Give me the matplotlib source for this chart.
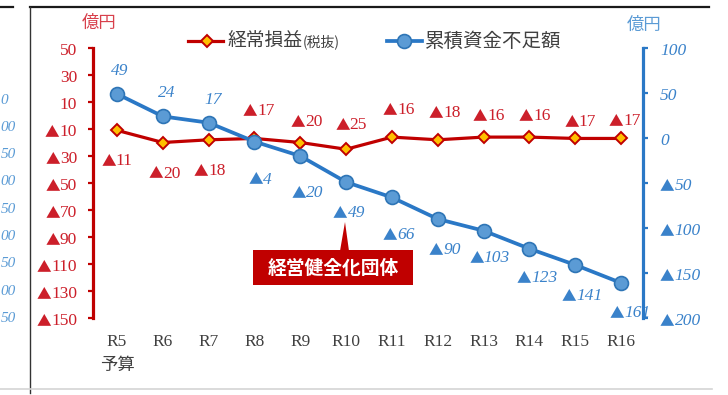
import matplotlib.pyplot as plt
from matplotlib.lines import Line2D
from matplotlib.patches import Rectangle, Polygon
from matplotlib.offsetbox import TextArea, HPacker, AnnotationBbox

W, H = 728, 395

years = ['R5', 'R6', 'R7', 'R8', 'R9', 'R10', 'R11', 'R12', 'R13', 'R14', 'R15', 'R16']
profit = [-11, -20, -18, -17, -20, -25, -16, -18, -16, -16, -17, -17]
shortfall = [49, 24, 17, -4, -20, -49, -66, -90, -103, -123, -141, -161]
left_ticks = [50, 30, 10, -10, -30, -50, -70, -90, -110, -130, -150]
right_ticks = [100, 50, 0, -50, -100, -150, -200]
side_labels = ['0', '00', '50', '00', '50', '00', '50', '00', '50']

# where each value label sits relative to its point (pixels, +dy = down)
profit_offsets = [(0, 28), (2, 28), (1, 28), (4, -30), (6, -23), (5, -27),
                  (7, -30), (7, -30), (5, -24), (5, -24), (5, -19), (4, -20)]
shortfall_offsets = [(3, -26), (4, -26), (4, -26), (6, 35), (7, 34), (3, 28),
                     (7, 35), (7, 28), (6, 24), (8, 26), (7, 28), (9, 27)]
BASE_SHIFT = 3  # text boxes include descent, so nudge them down a little

RED = '#C00000'
RED_TXT = '#CC1F2A'
BLUE = '#2A78C6'
BLUE_TXT = '#3A82CA'
GRAY = '#404040'
SERIF = ['Liberation Serif', 'DejaVu Serif']
JP = ['Noto Sans CJK JP', 'DejaVu Sans']

plt.rcParams['font.family'] = SERIF


def fx(x):
    return x / W


def fy(y):
    return 1 - y / H


def num_label(ax, v, xy, xycoords, offset, align, color, style='normal', z=4):
    # negative values are written with a leading ▲ instead of a minus sign
    parts = []
    if v < 0:
        parts.append(TextArea('▲', textprops=dict(color=color, fontsize=10.5,
                                                  family=JP)))
    parts.append(TextArea(str(abs(v)), textprops=dict(color=color, fontsize=12.5,
                                                      family=SERIF, fontstyle=style)))
    box = HPacker(children=parts, pad=0, sep=0, align='baseline')
    ab = AnnotationBbox(box, xy, xycoords=xycoords,
                        xybox=(offset[0], offset[1] - BASE_SHIFT),
                        boxcoords='offset pixels', box_alignment=align,
                        frameon=False, pad=0, annotation_clip=False)
    ab.set_zorder(z)
    ax.add_artist(ab)


fig = plt.figure(figsize=(W / 100, H / 100), dpi=100)
fig.patch.set_facecolor('white')

ax = fig.add_axes([fx(93), fy(318), (643 - 93) / W, (318 - 48) / H])
ax2 = ax.twinx()
ax.set_xlim(-0.524, 11.48)
ax.set_ylim(-150, 50)
ax2.set_ylim(-200, 100)

for side in ['top', 'right', 'bottom']:
    ax.spines[side].set_visible(False)
for side in ['top', 'left', 'bottom']:
    ax2.spines[side].set_visible(False)
ax.spines['left'].set_color(RED)
ax.spines['left'].set_linewidth(2.3)
ax2.spines['right'].set_color(BLUE)
ax2.spines['right'].set_linewidth(2.3)

ax.set_yticks(left_ticks)
ax.tick_params(axis='y', direction='out', length=3.6, width=1.6, color=RED,
               labelleft=False)
ax2.set_yticks(right_ticks)
ax2.tick_params(axis='y', direction='out', length=3.6, width=1.6, color=BLUE,
                labelright=False)
for v in left_ticks:
    num_label(ax, v, (0, v), ('axes fraction', 'data'), (-16, 0), (1, 0.5), RED_TXT)
for v in right_ticks:
    num_label(ax2, v, (1, v), ('axes fraction', 'data'), (17, 0), (0, 0.5), BLUE_TXT,
              style='italic')

ax.set_xticks(range(len(years)), labels=years)
ax.tick_params(axis='x', length=0, labelsize=12.5, labelcolor=GRAY, pad=11.5)
ax.annotate('予算', xy=(0, 0), xycoords=('data', 'axes fraction'),
            xytext=(0, -47), textcoords='offset pixels', ha='center', va='center',
            color=GRAY, fontsize=12.5, family=JP)

x = range(len(years))
ax.plot(x, profit, color=RED, lw=2.3, marker='D', ms=6, mfc='#FFC000',
        mec=RED, mew=1.4, zorder=3)
ax2.plot(x, shortfall, color=BLUE, lw=2.7, marker='o', ms=10, mfc='#5B9BD5',
         mec='#2E75B6', mew=1.2, zorder=3)

for i, v in enumerate(profit):
    dx, dy = profit_offsets[i]
    num_label(ax, v, (i, v), 'data', (dx, -dy), (0.5, 0.5), RED_TXT)
for i, v in enumerate(shortfall):
    dx, dy = shortfall_offsets[i]
    num_label(ax2, v, (i, v), 'data', (dx, -dy), (0.5, 0.5), BLUE_TXT,
              style='italic', z=1)

# unit captions
fig.text(fx(99), fy(23), '億円', ha='center', va='center', color='#D8404C',
         fontsize=12.5, family=JP)
fig.text(fx(644), fy(25), '億円', ha='center', va='center', color='#5B9BD5',
         fontsize=12.5, family=JP)

# legend
fig.add_artist(Line2D([fx(188), fx(223)], [fy(41), fy(41)], color=RED, lw=2.3))
fig.add_artist(Line2D([fx(207)], [fy(41)], marker='D', ms=6, mfc='#FFC000',
                      mec=RED, mew=1.4))
fig.text(fx(228), fy(41), '経常損益', ha='left', va='center', color=GRAY,
         fontsize=13.5, family=JP)
fig.text(fx(303), fy(42), '(税抜)', ha='left', va='center', color=GRAY,
         fontsize=10, family=JP)
fig.add_artist(Line2D([fx(387), fx(422)], [fy(41), fy(41)], color=BLUE, lw=2.7))
fig.add_artist(Line2D([fx(404)], [fy(41)], marker='o', ms=10, mfc='#5B9BD5',
                      mec='#2E75B6', mew=1.2))
fig.text(fx(425), fy(41), '累積資金不足額', ha='left', va='center', color=GRAY,
         fontsize=14, family=JP)

# callout
fig.add_artist(Polygon([(fx(340), fy(251)), (fx(349), fy(251)), (fx(345), fy(222))],
                       closed=True, facecolor=RED, edgecolor='none',
                       transform=fig.transFigure))
fig.add_artist(Rectangle((fx(253), fy(285)), 160 / W, 35 / H, facecolor=RED,
                         edgecolor='none', transform=fig.transFigure))
fig.text(fx(333), fy(268), '経営健全化団体', ha='center', va='center', color='white',
         fontsize=13.5, fontweight='bold', family=JP)

# panel frame
fig.add_artist(Line2D([fx(30), fx(709)], [fy(6.5), fy(6.5)], color='#1a1a1a', lw=1.6))
fig.add_artist(Line2D([0, fx(13)], [fy(6.5), fy(6.5)], color='#1a1a1a', lw=1.6))
fig.add_artist(Line2D([fx(30), fx(30)], [fy(6.5), fy(393)], color='#333333', lw=1))
fig.add_artist(Line2D([0, fx(712)], [fy(389), fy(389)], color='#d4d4d4', lw=1.2))

# tail ends of the neighbouring panel's axis labels at the left edge
for j, s in enumerate(side_labels):
    fig.text(fx(0.5), fy(100 + j * 27.3), s, ha='left', va='center',
             color='#5B9BD5', fontsize=11, fontstyle='italic')

fig.savefig('out.png', dpi=100)
